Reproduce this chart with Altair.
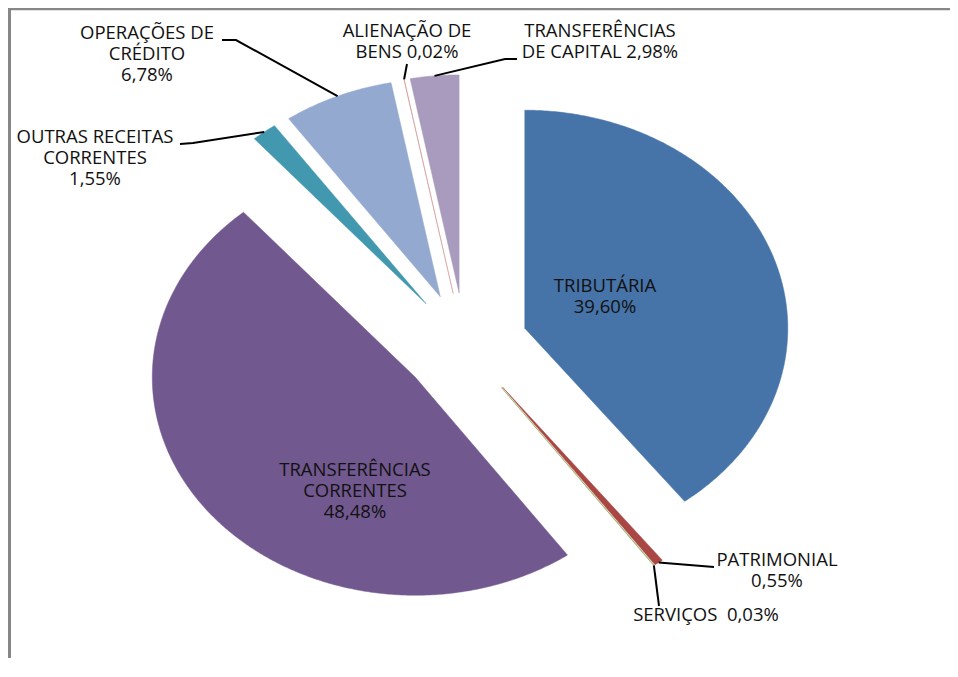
import numpy as np
import pandas as pd
import altair as alt

# ---------------- data ----------------
CATEGORIES = [
    "TRIBUTÁRIA",
    "PATRIMONIAL",
    "SERVIÇOS",
    "TRANSFERÊNCIAS CORRENTES",
    "OUTRAS RECEITAS CORRENTES",
    "OPERAÇÕES DE CRÉDITO",
    "ALIENAÇÃO DE BENS",
    "TRANSFERÊNCIAS DE CAPITAL",
]
VALUES = [39.60, 0.55, 0.03, 48.48, 1.55, 6.78, 0.02, 2.98]
COLORS = ["#4673A8", "#AA4643", "#89A54E", "#71588F",
          "#4198AF", "#93A9CF", "#D19392", "#A99BBD"]
# label text lines ({p} = formatted percentage)
LABEL_LINES = [
    ["TRIBUTÁRIA", "{p}"],
    ["PATRIMONIAL", "{p}"],
    ["SERVIÇOS\u00a0 {p}"],
    ["TRANSFERÊNCIAS", "CORRENTES", "{p}"],
    ["OUTRAS RECEITAS", "CORRENTES", "{p}"],
    ["OPERAÇÕES DE", "CRÉDITO", "{p}"],
    ["ALIENAÇÃO DE", "BENS {p}"],
    ["TRANSFERÊNCIAS", "DE CAPITAL {p}"],
]

# ---------------- layout ----------------
PAD_L, PAD_T = 4, 4
W, H = 938, 646
CX, CY = 465, 345          # page position of pie centre
RX, RY = 263, 218          # pie radii in pixels (chart is stretched)
EXPLODE = 0.24
LINE_H = 21
FONT = "Open Sans"
FONT_SIZE = 18.5
# label anchors (page px: centre x, first line centre y)
LABEL_POS = [(605, 286), (777, 560), (706, 615), (355, 470),
             (95, 137), (147, 33), (407, 31), (600, 31)]
# leader line bend/end points (page px), start is the slice's outer midpoint
LEADERS = [[], [(714, 567)], [(659, 606)], [],
           [(193, 143), (180, 144)], [(236, 40), (222, 40)],
           [(407, 64)], [(505, 59), (517, 59)]]

OX, OY = 8 + PAD_L, 8 + PAD_T


def to_x(px):
    return (px - CX) / RX


def to_y(py):
    return (CY - py) / RY


X_DOM = [to_x(OX), to_x(OX + W)]
Y_DOM = [to_y(OY + H), to_y(OY)]
xs = alt.Scale(domain=X_DOM, nice=False, zero=False)
ys = alt.Scale(domain=Y_DOM, nice=False, zero=False)
cscale = alt.Scale(domain=CATEGORIES, range=COLORS)

# ---------------- geometry tables built from the data ----------------
total = float(sum(VALUES))
slice_rows, leader_rows, label_rows = [], [], []
cum = 0.0
for i, (cat, v) in enumerate(zip(CATEGORIES, VALUES)):
    a0 = 360.0 * cum / total
    a1 = 360.0 * (cum + v) / total
    cum += v
    m = np.radians((a0 + a1) / 2)
    ox, oy = EXPLODE * np.sin(m), EXPLODE * np.cos(m)
    k = 0
    slice_rows.append({"cat": cat, "idx": k, "x": ox, "y": oy})
    n = max(2, int((a1 - a0) / 0.5) + 1)
    for a in np.radians(np.linspace(a0, a1, n)):
        k += 1
        slice_rows.append({"cat": cat, "idx": k,
                           "x": ox + np.sin(a), "y": oy + np.cos(a)})
    # leader line
    if LEADERS[i]:
        sx, sy = ox + np.sin(m), oy + np.cos(m)
        leader_rows.append({"cat": cat, "idx": 0, "x": sx, "y": sy})
        for j, (px, py) in enumerate(LEADERS[i]):
            leader_rows.append({"cat": cat, "idx": j + 1,
                                "x": to_x(px), "y": to_y(py)})
    # label block (one multi-line text element per label)
    pct = f"{v:.2f}".replace(".", ",") + "%"
    lines = [ln.format(p=pct) for ln in LABEL_LINES[i]]
    lx, ly = LABEL_POS[i]
    label_rows.append({"cat": cat, "text": "\n".join(lines),
                       "x": to_x(lx), "y": to_y(ly)})

slices_df = pd.DataFrame(slice_rows)
leaders_df = pd.DataFrame(leader_rows)
labels_df = pd.DataFrame(label_rows)

slices = alt.Chart(slices_df).mark_line(
    interpolate="linear-closed", strokeWidth=0.5
).encode(
    x=alt.X("x:Q", scale=xs, axis=None),
    y=alt.Y("y:Q", scale=ys, axis=None),
    fill=alt.Fill("cat:N", scale=cscale, legend=None),
    stroke=alt.Stroke("cat:N", scale=cscale, legend=None),
    order=alt.Order("idx:Q"),
)

leaders = alt.Chart(leaders_df).mark_line(
    color="black", strokeWidth=2
).encode(
    x=alt.X("x:Q", scale=xs, axis=None),
    y=alt.Y("y:Q", scale=ys, axis=None),
    detail="cat:N",
    order=alt.Order("idx:Q"),
)

labels = alt.Chart(labels_df).mark_text(
    font=FONT, fontSize=FONT_SIZE, color="#111111",
    align="center", baseline="middle", lineBreak="\n", lineHeight=LINE_H
).encode(
    x=alt.X("x:Q", scale=xs, axis=None),
    y=alt.Y("y:Q", scale=ys, axis=None),
    text="text:N",
)

frame_df = pd.DataFrame({"k": [0]})
frame_top = alt.Chart(frame_df).mark_rule(color="#878787", strokeWidth=2.5).encode(
    x=alt.value(-4), x2=alt.value(W), y=alt.value(-3)
)
frame_left = alt.Chart(frame_df).mark_rule(color="#878787", strokeWidth=3).encode(
    x=alt.value(-2.5), y=alt.value(-4), y2=alt.value(H)
)

chart = alt.layer(slices, leaders, labels, frame_top, frame_left).properties(
    width=W, height=H,
    autosize=alt.AutoSizeParams(type="none"),
    padding={"left": PAD_L, "top": PAD_T, "right": 0, "bottom": 0},
    background="white",
).configure_view(stroke=None)

chart.save("out.html", embed_options={"renderer": "svg", "actions": False})
